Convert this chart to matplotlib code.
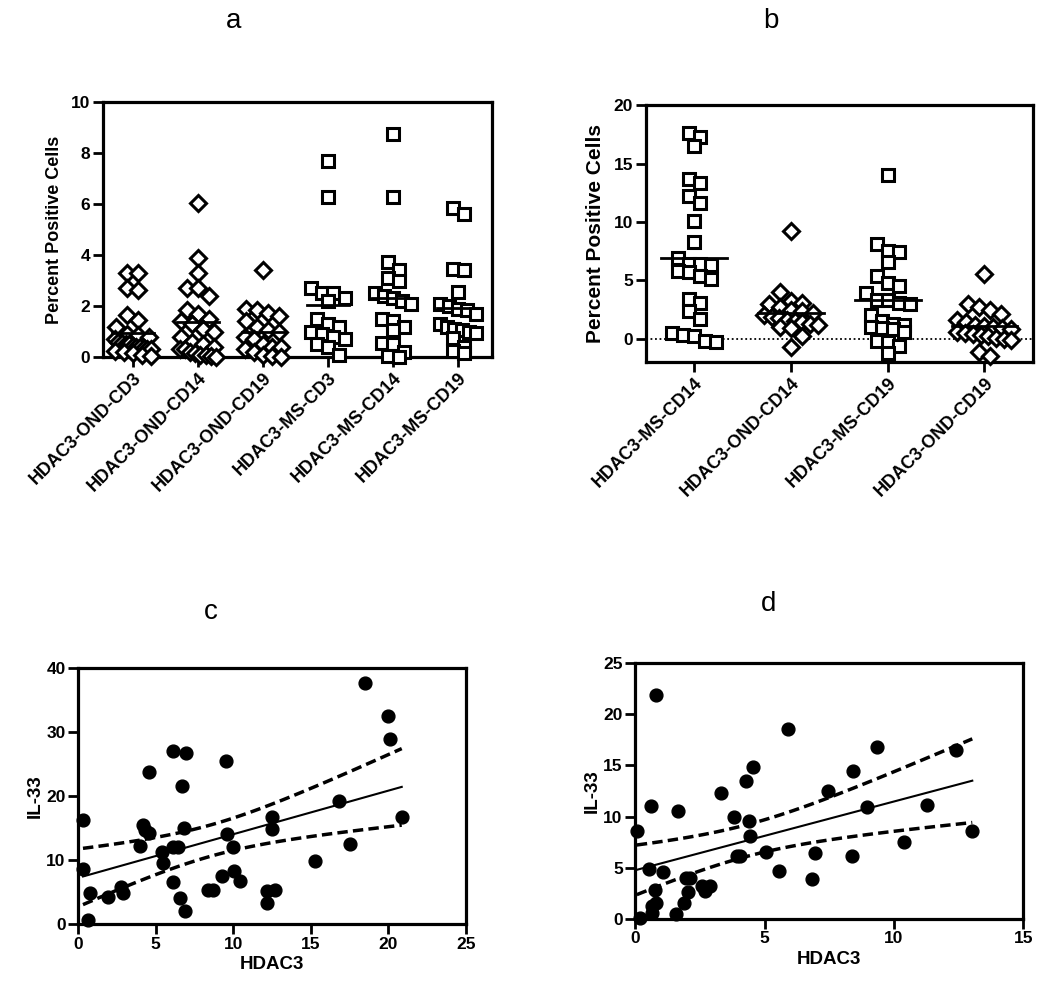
import numpy as np
import matplotlib
matplotlib.use("Agg")
from matplotlib import pyplot as plt

plt.rcParams['font.family'] = ['Liberation Sans', 'DejaVu Sans']
plt.rcParams['font.weight'] = 'bold'
plt.rcParams['axes.labelweight'] = 'bold'

# ---- panel a data ----
a_labels = ['HDAC3-OND-CD3', 'HDAC3-OND-CD14', 'HDAC3-OND-CD19',
            'HDAC3-MS-CD3', 'HDAC3-MS-CD14', 'HDAC3-MS-CD19']
a_markers = ['D', 'D', 'D', 's', 's', 's']
a_ond_cd3 = [3.3, 3.3, 2.7, 2.65, 1.65, 1.45, 1.2, 0.9, 0.85, 0.8, 0.7, 0.6, 0.55,
             0.5, 0.5, 0.45, 0.4, 0.4, 0.35, 0.3, 0.3, 0.25, 0.2, 0.15, 0.1, 0.05]
a_ond_cd14 = [6.05, 3.9, 3.3, 2.7, 2.7, 2.4, 1.85, 1.7, 1.5, 1.4, 1.3, 1.1, 1.0, 0.8,
              0.6, 0.5, 0.4, 0.3, 0.3, 0.2, 0.15, 0.1, 0.1, 0.05, 0.0]
a_ond_cd19 = [3.4, 1.9, 1.85, 1.75, 1.6, 1.4, 1.2, 1.05, 1.0, 0.8, 0.7, 0.5, 0.4,
              0.4, 0.3, 0.2, 0.1, 0.05, 0.0]
a_ms_cd3 = [7.7, 6.3, 2.7, 2.5, 2.5, 2.3, 2.2, 1.5, 1.3, 1.2, 1.0, 0.9, 0.8, 0.7,
            0.5, 0.4, 0.1]
a_ms_cd14 = [8.75, 6.3, 3.75, 3.4, 3.1, 3.0, 2.5, 2.4, 2.3, 2.2, 2.1, 1.5, 1.4, 1.2,
             1.05, 0.55, 0.5, 0.2, 0.05, 0.0]
a_ms_cd19 = [5.85, 5.6, 3.45, 3.4, 2.55, 2.1, 2.0, 1.9, 1.85, 1.7, 1.3, 1.2, 1.1,
             1.05, 1.0, 0.95, 0.75, 0.4, 0.25, 0.15]
a_groups = [a_ond_cd3, a_ond_cd14, a_ond_cd19, a_ms_cd3, a_ms_cd14, a_ms_cd19]

# ---- panel b data ----
b_labels = ['HDAC3-MS-CD14', 'HDAC3-OND-CD14', 'HDAC3-MS-CD19', 'HDAC3-OND-CD19']
b_markers = ['s', 'D', 's', 'D']
b_ms_cd14 = [17.6, 17.3, 16.5, 13.7, 13.3, 12.2, 11.6, 10.1, 8.3, 6.9, 6.4, 6.4, 6.3,
             5.8, 5.7, 5.4, 5.1, 3.4, 3.1, 2.4, 1.7, 0.5, 0.3, 0.2, -0.2, -0.3]
b_ond_cd14 = [9.2, 4.0, 3.2, 3.1, 3.0, 2.7, 2.5, 2.4, 2.2, 2.0, 1.9, 1.8, 1.6, 1.5,
              1.4, 1.3, 1.2, 1.0, 0.9, 0.2, -0.7]
b_ms_cd19 = [14.0, 8.1, 7.5, 7.4, 6.6, 5.4, 4.8, 4.5, 3.9, 3.3, 3.3, 3.1, 3.0, 2.0,
             1.5, 1.3, 1.2, 1.0, 0.9, 0.8, 0.6, -0.2, -0.3, -0.6, -1.2]
b_ond_cd19 = [5.5, 3.0, 2.7, 2.5, 2.1, 1.6, 1.4, 1.2, 1.1, 1.0, 0.9, 0.8, 0.6, 0.5,
              0.4, 0.3, 0.2, 0.1, 0.0, -0.1, -1.1, -1.5]
b_groups = [b_ms_cd14, b_ond_cd14, b_ms_cd19, b_ond_cd19]

# ---- panel c data ----
c_hdac3 = [0.32, 0.32, 0.75, 0.65, 1.94, 2.8, 2.9, 3.98, 4.2, 4.3, 4.6, 4.58, 5.38,
           5.5, 6.1, 6.1, 6.45, 6.13, 6.95, 6.73, 6.6, 6.88, 6.8, 8.4, 8.7, 9.3,
           9.57, 9.53, 9.96, 10.04, 10.45, 12.15, 12.15, 12.7, 12.5, 12.5, 15.3,
           16.8, 17.5, 18.5, 19.96, 20.1, 20.86]
c_il33 = [16.3, 8.55, 4.9, 0.6, 4.3, 5.8, 4.8, 12.2, 15.5, 14.7, 14.2, 23.7, 11.3,
          9.5, 6.5, 12.1, 12.0, 27.1, 26.7, 21.5, 4.1, 2.1, 15.0, 5.3, 5.3, 7.5,
          14.1, 25.5, 12.1, 8.3, 6.7, 5.2, 3.3, 5.3, 16.8, 14.9, 9.9, 19.3, 12.5,
          37.6, 32.5, 28.9, 16.7]

# ---- panel d data ----
d_hdac3 = [0.06, 0.19, 0.52, 0.61, 0.81, 0.77, 0.64, 0.64, 0.81, 1.06, 1.56, 1.64,
           1.87, 2.03, 1.97, 2.13, 2.58, 2.7, 2.9, 3.31, 3.8, 3.93, 4.06, 4.3, 4.38,
           4.45, 4.55, 5.06, 5.55, 5.89, 6.84, 6.94, 7.44, 8.38, 8.41, 8.96, 9.33,
           10.38, 11.29, 12.42, 13.03]
d_il33 = [8.56, 0.1, 4.9, 11.07, 21.9, 2.86, 1.24, 0.6, 1.56, 4.56, 0.52, 10.5,
          1.56, 2.6, 4.0, 4.0, 3.26, 2.7, 3.26, 12.3, 9.93, 6.18, 6.18, 13.5, 9.54,
          8.14, 14.8, 6.5, 4.65, 18.55, 3.9, 6.45, 12.47, 6.18, 14.42, 10.94, 16.76,
          7.55, 11.17, 16.47, 8.56]


def swarm(vals, px_x, px_y, step, half, row_h=11.0):
    # greedy rows of about one marker height, each row spread sideways
    vals = np.asarray(vals)
    order = np.argsort(-vals)
    offs = np.zeros(len(vals))
    rows = []
    for i in order:
        if rows and (vals[rows[-1][0]] - vals[i]) * px_y < row_h:
            rows[-1].append(i)
        else:
            rows.append([i])
    for r in rows:
        n = len(r)
        if n == 1:
            continue
        st = min(step, 2 * half / (n - 1))
        offs[r] = (np.arange(n) - (n - 1) / 2.0) * st / px_x
    return offs


def style_box(ax, size):
    for s in ax.spines.values():
        s.set_linewidth(2.3)
    ax.tick_params(width=2, length=7, labelsize=size, pad=2)


fig = plt.figure(figsize=(10.5, 9.92), dpi=100)

# panel a
ax = fig.add_axes([0.098, 0.640, 0.3705, 0.257])
for i, (g, m) in enumerate(zip(a_groups, a_markers)):
    g = np.array(g)
    offs = swarm(g, 65.0, 25.5, 11.0, 18.0)
    ax.plot(i + offs, g, ls='none', marker=m, ms=8.5 if m == 's' else 8,
            mfc='white', mec='black', mew=2.2, clip_on=False, zorder=3)
    ax.plot([i - 0.32, i + 0.32], [g.mean(), g.mean()], color='black', lw=2, zorder=4)
ax.set_xlim(-0.46, 5.52)
ax.set_ylim(0, 10)
ax.set_yticks([0, 2, 4, 6, 8, 10])
ax.set_xticks(range(len(a_labels)))
ax.set_xticklabels(a_labels, rotation=45, ha='right', rotation_mode='anchor')
ax.set_ylabel('Percent Positive Cells', fontsize=13, labelpad=6)
style_box(ax, 12.5)
ax.tick_params(axis='x', labelsize=13)
fig.text(0.222, 0.979, 'a', ha='center', va='center', fontsize=20, fontweight='normal')

# panel b
ax = fig.add_axes([0.615, 0.635, 0.3686, 0.259])
ax.axhline(0, color='black', ls=(0, (1, 1.5)), lw=1.3, zorder=1)
for i, (g, m) in enumerate(zip(b_groups, b_markers)):
    g = np.array(g)
    offs = swarm(g, 97.0, 11.6, 11.0, 27.0)
    ax.plot(i + offs, g, ls='none', marker=m, ms=8.5 if m == 's' else 8,
            mfc='white', mec='black', mew=2.2, clip_on=False, zorder=3)
    ax.plot([i - 0.34, i + 0.34], [g.mean(), g.mean()], color='black', lw=2, zorder=4)
ax.set_xlim(-0.5, 3.5)
ax.set_ylim(-2, 20)
ax.set_yticks([0, 5, 10, 15, 20])
ax.set_xticks(range(len(b_labels)))
ax.set_xticklabels(b_labels, rotation=45, ha='right', rotation_mode='anchor')
ax.set_ylabel('Percent Positive Cells', fontsize=15, labelpad=6)
style_box(ax, 12.5)
ax.tick_params(axis='x', labelsize=13)
fig.text(0.734, 0.979, 'b', ha='center', va='center', fontsize=20, fontweight='normal')


def reg_panel(ax, x, y):
    x = np.array(x)
    y = np.array(y)
    n = len(x)
    slope, inter = np.polyfit(x, y, 1)
    xs = np.linspace(x.min(), x.max(), 100)
    fit = inter + slope * xs
    resid = y - (inter + slope * x)
    s = np.sqrt(np.sum(resid ** 2) / (n - 2))
    se = s * np.sqrt(1.0 / n + (xs - x.mean()) ** 2 / np.sum((x - x.mean()) ** 2))
    t = 2.02
    ax.plot(xs, fit, color='black', lw=1.5, zorder=2)
    ax.plot(xs, fit + t * se, color='black', lw=2.5, ls=(0, (3, 1.5)), zorder=2)
    ax.plot(xs, fit - t * se, color='black', lw=2.5, ls=(0, (3, 1.5)), zorder=2)
    ax.scatter(x, y, s=85, color='black', zorder=3, clip_on=False)


# panel c
ax = fig.add_axes([0.0743, 0.0685, 0.3695, 0.258])
reg_panel(ax, c_hdac3, c_il33)
ax.set_xlim(0, 25)
ax.set_ylim(0, 40)
ax.set_xticks([0, 5, 10, 15, 20, 25])
ax.set_yticks([0, 10, 20, 30, 40])
ax.set_xlabel('HDAC3', fontsize=13.5, labelpad=3)
ax.set_ylabel('IL-33', fontsize=13.5, labelpad=2)
style_box(ax, 12.5)
fig.text(0.201, 0.383, 'c', ha='center', va='center', fontsize=20, fontweight='normal')

# panel d
ax = fig.add_axes([0.605, 0.0736, 0.3695, 0.258])
reg_panel(ax, d_hdac3, d_il33)
ax.set_xlim(0, 15)
ax.set_ylim(0, 25)
ax.set_xticks([0, 5, 10, 15])
ax.set_yticks([0, 5, 10, 15, 20, 25])
ax.set_xlabel('HDAC3', fontsize=13.5, labelpad=3)
ax.set_ylabel('IL-33', fontsize=13.5, labelpad=2)
style_box(ax, 12.5)
fig.text(0.732, 0.391, 'd', ha='center', va='center', fontsize=20, fontweight='normal')

fig.savefig('out.png', dpi=100)
